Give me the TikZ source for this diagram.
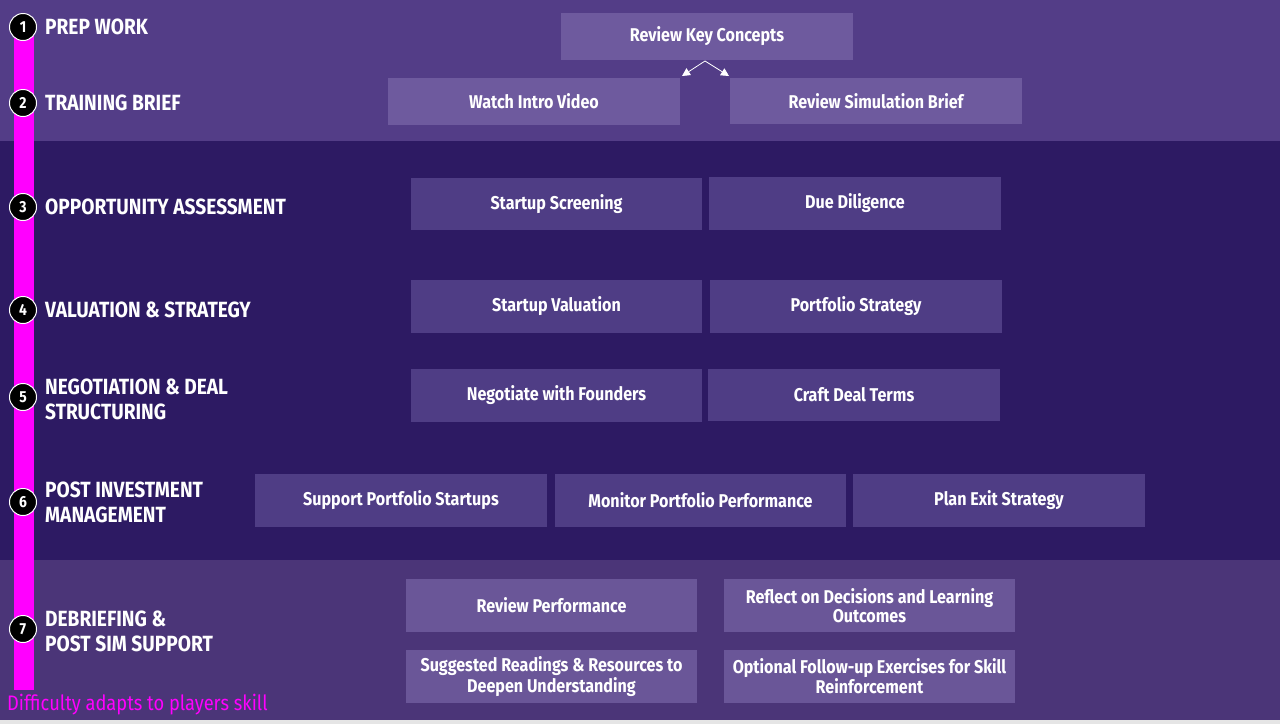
\documentclass[tikz,border=0pt]{standalone}
\usepackage{fontspec}
\setmainfont{Fira Sans}[UprightFont=* SemiBold,BoldFont=* Bold,FakeStretch=0.87]
\newfontfamily\thinf{Fira Sans}[FakeStretch=0.87]
\usetikzlibrary{arrows.meta}
\definecolor{bandA}{HTML}{533D87}
\definecolor{bandB}{HTML}{2D1A63}
\definecolor{bandC}{HTML}{4B3578}
\definecolor{boxA}{HTML}{6E5A9E}
\definecolor{boxB}{HTML}{4F3D85}
\definecolor{boxC}{HTML}{6A5698}
\definecolor{mag}{HTML}{FF00FF}
\begin{document}
\begin{tikzpicture}[x=1pt,y=-1pt,
 bx/.style={fill=#1,draw=none,text=white,font=\bfseries\fontsize{18.5}{19}\selectfont,align=center,inner sep=0pt},
 stepc/.style={circle,fill=black,draw=white,line width=1pt,minimum size=27pt,inner sep=0pt,text=white,font=\bfseries\fontsize{16}{16}\selectfont},
 lab/.style={anchor=west,text=white,font=\bfseries\fontsize{22}{25}\selectfont,align=left,inner sep=0pt}]
\useasboundingbox (0,0) rectangle (1280,724);
\fill[bandA] (0,0) rectangle (1280,141);
\fill[bandB] (0,141) rectangle (1280,560);
\fill[bandC] (0,560) rectangle (1280,720);
\fill[gray!20] (0,720) rectangle (1280,724);
\fill[mag] (14,25) rectangle (34,690);
\newcommand\bxn[7]{\fill[#7] (#2,#4) rectangle (#3,#5); \node[bx=#7] (#1) at ({(#2+#3)/2},{(#4+#5)/2}) {#6};}
\bxn{rkc}{561}{853}{13}{60}{Review Key Concepts}{boxA}
\bxn{wiv}{388}{680}{78}{125}{Watch Intro Video}{boxA}
\bxn{rsb}{730}{1022}{78}{124}{Review Simulation Brief}{boxA}
\bxn{ss}{411}{702}{178}{230}{Startup Screening}{boxB}
\bxn{dd}{709}{1001}{177}{230}{Due Diligence}{boxB}
\bxn{sv}{411}{702}{280}{333}{Startup Valuation}{boxB}
\bxn{ps}{710}{1002}{280}{333}{Portfolio Strategy}{boxB}
\bxn{nf}{411}{702}{369}{422}{Negotiate with Founders}{boxB}
\bxn{cd}{708}{1000}{369}{421}{Craft Deal Terms}{boxB}
\bxn{sp}{255}{547}{474}{527}{Support Portfolio Startups}{boxB}
\bxn{mp}{555}{846}{474}{527}{Monitor Portfolio Performance}{boxB}
\bxn{pe}{853}{1145}{474}{527}{Plan Exit Strategy}{boxB}
\bxn{rp}{406}{697}{579}{632}{Review Performance}{boxC}
\bxn{rd}{724}{1015}{579}{632}{Reflect on Decisions and Learning\\Outcomes}{boxC}
\bxn{sr}{406}{697}{650}{703}{Suggested Readings \& Resources to\\Deepen Understanding}{boxC}
\bxn{of}{724}{1015}{650}{703}{Optional Follow-up Exercises for Skill\\Reinforcement}{boxC}
\coordinate (ap) at (705,61);
\coordinate (al) at (682,76);
\coordinate (ar) at (729,76);
\draw[white,line width=0.8pt,-{Triangle[length=8pt,width=8pt]}] (ap) -- (al);
\draw[white,line width=0.8pt,-{Triangle[length=8pt,width=8pt]}] (ap) -- (ar);
\node[stepc] (s1) at (23,27) {1}; \node[lab] (l1) at (45,27) {PREP WORK};
\node[stepc] (s2) at (23,103) {2}; \node[lab] (l2) at (45,103) {TRAINING BRIEF};
\node[stepc] (s3) at (23,207) {3}; \node[lab] (l3) at (45,207) {OPPORTUNITY ASSESSMENT};
\node[stepc] (s4) at (23,310) {4}; \node[lab] (l4) at (45,310) {VALUATION \& STRATEGY};
\node[stepc] (s5) at (23,397) {5}; \node[lab] (l5) at (45,399) {NEGOTIATION \& DEAL\\STRUCTURING};
\node[stepc] (s6) at (23,502) {6}; \node[lab] (l6) at (45,502) {POST INVESTMENT\\MANAGEMENT};
\node[stepc] (s7) at (23,629) {7}; \node[lab] (l7) at (45,631) {DEBRIEFING \&\\POST SIM SUPPORT};
\node[anchor=west,inner sep=0pt,text=mag,font=\thinf\fontsize{21}{21}\selectfont] (ft) at (7,705) {Difficulty adapts to players skill};
\end{tikzpicture}
\end{document}
